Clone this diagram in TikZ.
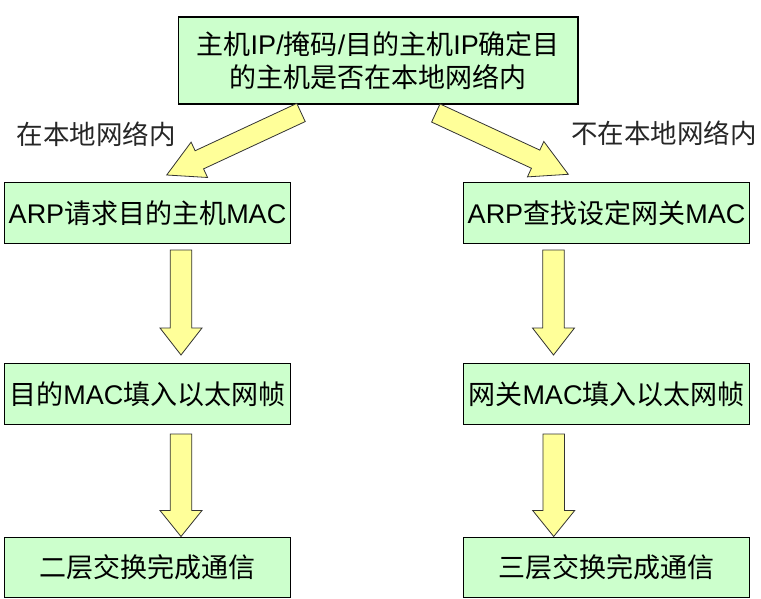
\documentclass[tikz,border=0pt]{standalone}
\usepackage{fontspec}
\setmainfont{Liberation Sans}
\newfontfamily\cjk{Noto Sans CJK SC}
\usetikzlibrary{calc}
\newcommand\zh[1]{{\cjk #1}}
\definecolor{boxgreen}{HTML}{CCFFCC}
\definecolor{arrowyellow}{HTML}{FFFF99}
\tikzset{
  box/.style={draw=black, line width=1.1pt, fill=boxgreen, rectangle, inner sep=0pt,
    minimum width=286pt, minimum height=60.5pt, font=\fontsize{27}{33}\selectfont, text=black},
  lbl/.style={inner sep=0pt, font=\fontsize{26.5}{32}\selectfont, text=black!85},
  arrowfill/.style={draw=black!80, line width=0.8pt, fill=arrowyellow, line join=miter}
}
% #1 tail, #2 tip, #3 half shaft width, #4 half head width, #5 head length
\newcommand\fatarrow[5]{%
  \coordinate (fa-h) at ($(#2)!#5!(#1)$);
  \draw[arrowfill] ($(#1)!#3!90:(#2)$) -- ($(fa-h)!#3!90:(#2)$) -- ($(fa-h)!#4!90:(#2)$)
    -- (#2) -- ($(fa-h)!#4!-90:(#2)$) -- ($(fa-h)!#3!-90:(#2)$) -- ($(#1)!#3!-90:(#2)$) -- cycle;
}
\begin{document}
\begin{tikzpicture}[x=1pt, y=-1pt]
\useasboundingbox (0,0) rectangle (761,599);
\fill[white] (0,0) rectangle (761,599);

\node[box, minimum width=399.5pt, minimum height=87pt, align=center] (top) at (378.25,60.5)
  {\zh{主机}IP/\zh{掩码}/\zh{目的主机}IP\zh{确定目}\\\zh{的主机是否在本地网络内}};

\node[box] (l1) at (147.5,213) {ARP\zh{请求目的主机}MAC};
\node[box] (r1) at (606.5,213) {ARP\zh{查找设定网关}MAC};
\node[box] (l2) at (147.5,394) {\zh{目的}MAC\zh{填入以太网帧}};
\node[box] (r2) at (606.5,394) {\zh{网关}MAC\zh{填入以太网帧}};
\node[box] (l3) at (147.5,567.5) {\zh{二层交换完成通信}};
\node[box] (r3) at (606.5,567.5) {\zh{三层交换完成通信}};

\node[lbl] (lin) at (96,134) {\zh{在本地网络内}};
\node[lbl] (lout) at (664,133) {\zh{不在本地网络内}};

% diagonal arrows
\coordinate (dlA) at (301,112.5);
\coordinate (dlB) at (166.7,175);
\coordinate (drA) at (435.8,113);
\coordinate (drB) at (568.3,174.3);
\fatarrow{dlA}{dlB}{10pt}{19.5pt}{36pt}
\fatarrow{drA}{drB}{10pt}{19.5pt}{36pt}

% vertical arrows
\coordinate (v1A) at (181,250);   \coordinate (v1B) at (181,355);
\coordinate (v2A) at (553.5,250); \coordinate (v2B) at (553.5,355);
\coordinate (v3A) at (181,434);   \coordinate (v3B) at (181,536.5);
\coordinate (v4A) at (553.7,434); \coordinate (v4B) at (553.7,536.5);
\fatarrow{v1A}{v1B}{10.8pt}{21pt}{27pt}
\fatarrow{v2A}{v2B}{10.8pt}{21pt}{27pt}
\fatarrow{v3A}{v3B}{10.8pt}{21pt}{26pt}
\fatarrow{v4A}{v4B}{10.8pt}{21pt}{26pt}
\end{tikzpicture}
\end{document}
